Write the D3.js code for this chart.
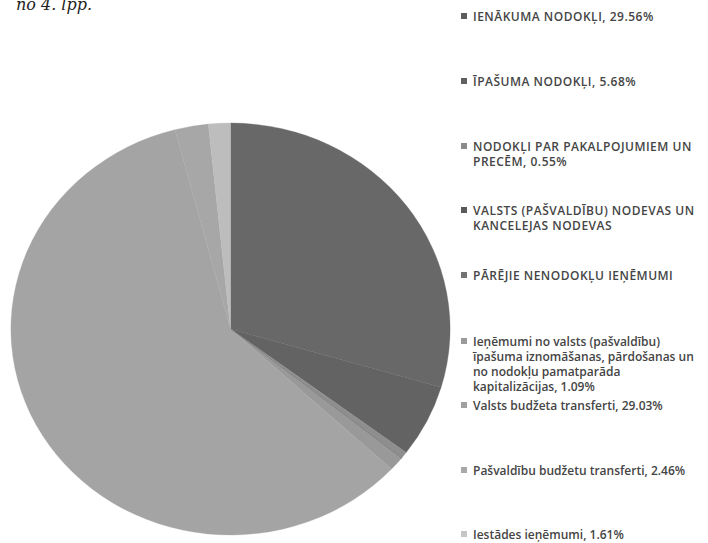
<!DOCTYPE html>
<html>
<head>
<meta charset="utf-8">
<script src="https://cdn.jsdelivr.net/npm/d3@7"></script>
<style>
  body { margin: 0; background: #fff; }
  svg { display: block; }
</style>
</head>
<body>
<div id="chart"></div>
<script>
// Pie chart of revenue structure, grey tones as in the scanned page

// legend lines (each item may wrap onto several lines)
let legendLines = [
    ["IENĀKUMA NODOKĻI, 29.56%"],
    ["ĪPAŠUMA NODOKĻI, 5.68%"],
    ["NODOKĻI PAR PAKALPOJUMIEM UN", "PRECĒM, 0.55%"],
    ["VALSTS (PAŠVALDĪBU) NODEVAS UN", "KANCELEJAS NODEVAS"],
    ["PĀRĒJIE NENODOKĻU IEŅĒMUMI"],
    ["Ieņēmumi no valsts (pašvaldību)", "īpašuma iznomāšanas, pārdošanas un", "no nodokļu pamatparāda", "kapitalizācijas, 1.09%"],
    ["Valsts budžeta transferti, 29.03%"],
    ["Pašvaldību budžetu transferti, 2.46%"],
    ["Iestādes ieņēmumi, 1.61%"]
];

// slice sizes as they look in the picture (percent)
let sliceValues = [29.56, 5.68, 0.55, 0.01, 0.01, 1.09, 59.03, 2.46, 1.61];

let sliceColors = ['#686868', '#636363', '#8e8e8e', '#5e5e5e', '#7a7a7a', '#999999', '#a4a4a4', '#a7a7a7', '#bdbdbd'];
let markerColors = ['#5c5c5c', '#606060', '#8a8a8a', '#5a5a5a', '#747474', '#9a9a9a', '#a0a0a0', '#a8a8a8', '#c6c6c6'];

let drawChart = function(){
    let width = 708, height = 543;

    let svg = d3.select('#chart').append('svg')
        .attr('width', width)
        .attr('height', height);

    // cut-off caption from the page above
    svg.append('text')
        .text('no 4. lpp.')
        .attr('x', 92)
        .attr('y', 10)
        .attr('text-anchor', 'end')
        .attr('font-family', 'DejaVu Serif')
        .attr('font-style', 'italic')
        .attr('font-size', 16)
        .attr('fill', '#222');

    // the scan is a bit stretched sideways, so the pie is too
    let r = 206;
    let pieG = svg.append('g')
        .attr('transform', 'translate(230.5,329) scale(1.066,1)');

    let pie = d3.pie().sort(null).value(function(d){ return d; });
    let arc = d3.arc().innerRadius(0).outerRadius(r);

    pieG.selectAll('path')
        .data(pie(sliceValues))
        .enter().append('path')
        .attr('d', arc)
        .attr('fill', function(d, i){ return sliceColors[i]; })
        .attr('stroke', function(d, i){ return sliceColors[i]; })
        .attr('stroke-width', 0.3);

    // legend
    let legendY = [21, 86, 151, 215, 280, 346, 410, 475, 539];
    let lineStep = 15;

    let legend = svg.selectAll('.legendItem')
        .data(legendLines)
        .enter().append('g')
        .attr('class', 'legendItem')
        .attr('transform', function(d, i){ return 'translate(461,' + legendY[i] + ')'; });

    legend.append('rect')
        .attr('x', 0)
        .attr('y', -8)
        .attr('width', 6)
        .attr('height', 6)
        .attr('fill', function(d, i){ return markerColors[i]; });

    legend.each(function(lines, i){
        let t = d3.select(this).append('text')
            .attr('font-family', 'Open Sans')
            .attr('font-size', 12)
            .attr('font-weight', 600)
            .attr('letter-spacing', i < 5 ? 0.5 : 0) // the capitals run wider in the scan
            .attr('fill', '#454545');
        lines.forEach(function(l, j){
            t.append('tspan')
                .attr('x', 12)
                .attr('y', j * lineStep)
                .text(l);
        });
    });
};

drawChart();
</script>
</body>
</html>
